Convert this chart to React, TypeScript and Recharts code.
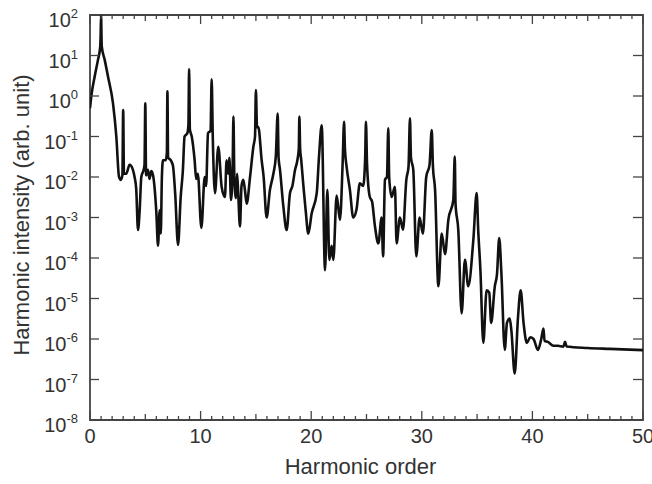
import React from 'react';
import { LineChart, Line, XAxis, YAxis, ReferenceArea, Label } from 'recharts';

// ---- data ----
const harmonicOrder = [
  0.0, 0.12, 0.42, 0.72, 0.92, 0.96, 1.0, 1.06, 1.33, 1.63, 2.08, 2.38, 2.62, 2.78, 2.93, 3.0, 3.07,
  3.28, 3.58, 3.88, 4.03, 4.18, 4.34, 4.49, 4.64, 4.85, 4.93, 5.0, 5.07, 5.24, 5.38, 5.54, 5.7, 5.85,
  6.0, 6.15, 6.3, 6.4, 6.5, 6.6, 6.85, 6.95, 7.0, 7.06, 7.3, 7.5, 7.7, 7.96, 8.2, 8.4, 8.55, 8.8, 8.9,
  8.96, 9.03, 9.2, 9.46, 9.6, 9.75, 10.07, 10.37, 10.5, 10.67, 10.9, 11.0, 11.1, 11.3, 11.6, 11.9,
  12.2, 12.35, 12.5, 12.6, 12.75, 12.9, 12.97, 13.05, 13.2, 13.3, 13.4, 13.56, 13.7, 13.86, 14.0,
  14.17, 14.47, 14.77, 14.92, 15.0, 15.1, 15.22, 15.52, 15.7, 15.97, 16.27, 16.58, 16.8, 16.97, 17.05,
  17.18, 17.48, 17.78, 18.08, 18.3, 18.54, 18.75, 18.88, 18.93, 19.0, 19.1, 19.3, 19.5, 19.74, 20.04,
  20.5, 20.7, 20.95, 21.25, 21.46, 21.64, 21.85, 22.0, 22.3, 22.6, 22.85, 22.97, 23.05, 23.2, 23.5,
  23.8, 24.1, 24.4, 24.7, 24.88, 24.95, 25.05, 25.3, 25.5, 25.77, 26.07, 26.37, 26.5, 26.67, 26.85,
  26.97, 27.05, 27.27, 27.57, 27.72, 28.02, 28.3, 28.6, 28.8, 28.93, 29.02, 29.23, 29.5, 29.8, 30.1,
  30.4, 30.7, 30.9, 31.0, 31.2, 31.5, 31.8, 32.1, 32.4, 32.85, 32.98, 33.05, 33.3, 33.6, 33.9, 34.2,
  34.66, 34.96, 35.1, 35.3, 35.56, 35.86, 36.1, 36.27, 36.6, 36.8, 37.0, 37.2, 37.5, 37.7, 37.95,
  38.1, 38.4, 38.7, 38.94, 39.2, 39.5, 39.8, 40.1, 40.5, 40.8, 41.0, 41.1, 41.4, 41.9, 42.3, 42.8,
  42.95, 43.1, 45.0, 47.0, 50.0,
];

const intensity = [
  0.5, 1.0, 3.0, 7.8, 16, 30, 100, 17, 7.8, 3.0, 0.66, 0.1, 0.0102, 0.0085, 0.011, 0.45, 0.012,
  0.012, 0.02, 0.015, 0.01, 0.005, 0.00049, 0.0015, 0.01, 0.015, 0.02, 0.66, 0.011, 0.015, 0.009, 0.014, 0.011, 0.005,
  0.0013, 0.0002, 0.0015, 0.0004, 0.01, 0.026, 0.026, 0.04, 1.3, 0.03, 0.026, 0.019, 0.004, 0.00021, 0.0032, 0.015, 0.1, 0.12, 0.2,
  4.6, 0.15, 0.1, 0.026, 0.009, 0.012, 0.00055, 0.01, 0.006, 0.12, 0.14, 2.6, 0.1, 0.004, 0.056, 0.0058,
  0.0032, 0.026, 0.012, 0.03, 0.0027, 0.02, 0.31, 0.01, 0.003, 0.012, 0.004, 0.0006, 0.006, 0.0085, 0.005,
  0.0022, 0.01, 0.056, 0.1, 1.4, 0.17, 0.17, 0.026, 0.01, 0.001, 0.0048, 0.012, 0.032, 0.37, 0.03,
  0.015, 0.0019, 0.00049, 0.004, 0.006, 0.015, 0.026, 0.05, 0.31, 0.05, 0.026, 0.0058, 0.0015, 0.0004, 0.00126,
  0.004, 0.03, 0.19, 0.00005, 0.0048, 0.00009, 0.0002, 0.00009, 0.0035, 0.00087, 0.025, 0.23, 0.05, 0.018, 0.0048,
  0.001, 0.0016, 0.007, 0.006, 0.03, 0.23, 0.02, 0.0032, 0.0025, 0.00059, 0.00023, 0.001, 0.00011, 0.0085, 0.01,
  0.16, 0.01, 0.0032, 0.0057, 0.00023, 0.001, 0.0005, 0.0085, 0.018, 0.28, 0.03, 0.015, 0.00011, 0.001, 0.0004,
  0.01, 0.02, 0.145, 0.02, 0.0048, 0.00002, 0.0004, 0.000125, 0.00087, 0.0027, 0.032, 0.0022, 0.00049, 0.0000043, 0.00009, 0.00002,
  0.00028, 0.004, 0.00049, 0.00005, 0.0000008, 0.000016, 0.000014, 0.0000025, 0.00002, 0.00004, 0.00031, 0.00004, 0.00000054, 0.0000025, 0.0000032,
  0.0000016, 0.00000014, 0.0000035, 0.000016, 0.0000025, 0.0000008, 0.0000011, 0.000001, 0.00000054, 0.000001, 0.0000018, 0.0000009, 0.00000085, 0.00000068, 0.00000068, 0.00000065,
  0.00000085, 0.00000065, 0.0000006, 0.00000057, 0.00000053,
];

const xTickValues = [
  0, 1, 2, 3, 4, 5, 6, 7, 8, 9, 10, 11, 12, 13, 14, 15, 16, 17, 18, 19, 20, 21, 22, 23, 24, 25,
  26, 27, 28, 29, 30, 31, 32, 33, 34, 35, 36, 37, 38, 39, 40, 41, 42, 43, 44, 45, 46, 47, 48, 49, 50,
];
const yTickValues = [1e-8, 1e-7, 1e-6, 1e-5, 1e-4, 1e-3, 1e-2, 1e-1, 1e0, 1e1, 1e2];
const yTickExponents = ['-8', '-7', '-6', '-5', '-4', '-3', '-2', '-1', '0', '1', '2'];

const xAxisTitle = 'Harmonic order';
const yAxisTitle = 'Harmonic intensity (arb. unit)';

const data = harmonicOrder.map((h, i) => ({ h, v: intensity[i] }));

// ---- layout / style ----
const W = 652;
const H = 484;
const PLOT_TOP = 15;
const PLOT_RIGHT = 643;
const FRAME = '#444';
const TEXT = '#333';
const FONT = '"Liberation Sans", Arial, Helvetica, sans-serif';

const XTick = (props: any) => {
  const { x, y, payload } = props;
  const v = payload.value;
  const len = v % 10 === 0 ? 9 : v % 5 === 0 ? 6 : 4;
  return (
    <g>
      <line x1={x} y1={y} x2={x} y2={y - len} stroke={FRAME} strokeWidth={1.3} />
      <line x1={x} y1={PLOT_TOP} x2={x} y2={PLOT_TOP + len} stroke={FRAME} strokeWidth={1.3} />
      {v % 10 === 0 && (
        <text x={x} y={y + 23} textAnchor="middle" fontSize={20} fill={TEXT} fontFamily={FONT}>
          {String(v)}
        </text>
      )}
    </g>
  );
};

const YTick = (props: any) => {
  const { x, y, payload, index } = props;
  let idx = yTickValues.indexOf(payload.value);
  if (idx < 0) idx = index;
  const exp = yTickExponents[idx];
  return (
    <g>
      <line x1={x} y1={y} x2={x + 9} y2={y} stroke={FRAME} strokeWidth={1.3} />
      <line x1={PLOT_RIGHT - 10} y1={y} x2={PLOT_RIGHT} y2={y} stroke={FRAME} strokeWidth={1.3} />
      <text x={x - 12} y={y + 12} textAnchor="end" fontSize={20} fill={TEXT} fontFamily={FONT}>
        10
        <tspan dy={-9} fontSize={13}>
          {exp}
        </tspan>
      </text>
    </g>
  );
};

const XTitle = (props: any) => {
  const vb = props.viewBox || { x: 90, width: 553 };
  return (
    <text x={vb.x + vb.width / 2 - 6} y={474} textAnchor="middle" fontSize={22} fill={TEXT} fontFamily={FONT}>
      {xAxisTitle}
    </text>
  );
};

const YTitle = () => (
  <text
    x={29}
    y={215}
    transform="rotate(-90, 29, 215)"
    textAnchor="middle"
    fontSize={22}
    fill={TEXT}
    fontFamily={FONT}
  >
    {yAxisTitle}
  </text>
);

export default function App() {
  return (
    <div style={{ position: 'absolute', left: 0, top: 0, width: W, height: H, background: '#fff' }}>
      <LineChart width={W} height={H} data={data} margin={{ top: PLOT_TOP, right: W - PLOT_RIGHT, left: 0, bottom: 0 }}>
        <XAxis
          dataKey="h"
          type="number"
          domain={[0, 50]}
          ticks={xTickValues}
          interval={0}
          height={64}
          axisLine={false}
          tickLine={false}
          tickSize={0}
          tickMargin={0}
          tick={<XTick />}
          allowDataOverflow
        >
          <Label content={<XTitle />} />
        </XAxis>
        <YAxis
          type="number"
          scale="log"
          domain={[1e-8, 100]}
          ticks={yTickValues}
          interval={0}
          width={90}
          axisLine={false}
          tickLine={false}
          tickSize={0}
          tickMargin={0}
          tick={<YTick />}
          allowDataOverflow
        >
          <Label content={<YTitle />} />
        </YAxis>
        <ReferenceArea
          x1={0}
          x2={50}
          y1={1e-8}
          y2={100}
          fill="none"
          fillOpacity={0}
          stroke={FRAME}
          strokeWidth={1.8}
          ifOverflow="visible"
        />
        <Line
          dataKey="v"
          type="monotoneX"
          stroke="#111"
          strokeWidth={2.6}
          strokeLinejoin="round"
          dot={false}
          isAnimationActive={false}
        />
      </LineChart>
    </div>
  );
}
